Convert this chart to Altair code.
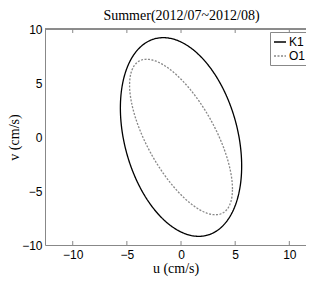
import numpy as np
import pandas as pd
import altair as alt

# Tidal ellipse parameters
constituents = ["K1", "O1"]
u_amp = [5.6, 4.75]          # cm/s, max |u|
v_amp = [9.2, 7.2]           # cm/s, max |v|
phase_deg = [107.0, 132.0]   # v phase lag relative to u

x_ticks = [-10, -5, 0, 5, 10]
y_ticks = [-10, -5, 0, 5, 10]

W, H = 261, 216

rows = []
for name, U, V, ph in zip(constituents, u_amp, v_amp, phase_deg):
    for i, t in enumerate(np.arange(0, 361, 2)):
        tr = np.deg2rad(t)
        rows.append({"name": name, "t": i,
                     "u": U * np.cos(tr),
                     "v": V * np.cos(tr - np.deg2rad(ph))})
df = pd.DataFrame(rows)
ticks_df = pd.DataFrame({"x": x_ticks})

xscale = alt.Scale(domain=[-12.56, 11.54], nice=False, zero=False)
yscale = alt.Scale(domain=[-10, 10], nice=False, zero=False)

leg = dict(orient="none", legendX=225, legendY=3, title=None,
           symbolType="stroke", symbolSize=144, symbolStrokeWidth=1.3,
           labelFont="Liberation Sans", labelFontSize=12, labelColor="black",
           labelOffset=2, strokeColor="#888888", fillColor="white",
           padding=3, rowPadding=1, cornerRadius=0)

lines = alt.Chart(df).mark_line(clip=True, strokeWidth=1.3).encode(
    x=alt.X("u:Q", scale=xscale,
            axis=alt.Axis(values=x_ticks, title="u (cm/s)", grid=False,
                          domainColor="#888888", ticks=False,
                          labelFont="Liberation Sans", labelFontSize=12,
                          labelColor="black", labelPadding=4,
                          titleFont="Liberation Serif", titleFontSize=14,
                          titleFontWeight="normal", titleColor="black",
                          titlePadding=1)),
    y=alt.Y("v:Q", scale=yscale,
            axis=alt.Axis(values=y_ticks, title="v (cm/s)", grid=False,
                          domainColor="#888888", ticks=False,
                          labelFont="Liberation Sans", labelFontSize=12,
                          labelColor="black", labelPadding=3,
                          titleFont="Liberation Serif", titleFontSize=14,
                          titleFontWeight="normal", titleColor="black",
                          titlePadding=0)),
    color=alt.Color("name:N", scale=alt.Scale(domain=constituents,
                                              range=["black", "#888888"]),
                    legend=alt.Legend(**leg)),
    strokeDash=alt.StrokeDash("name:N", scale=alt.Scale(domain=constituents,
                                                        range=[[1, 0], [2, 1.5]]),
                              legend=alt.Legend(**leg)),
    order="t:Q",
)

bottom_ticks = alt.Chart(ticks_df).mark_rule(color="#888888", strokeWidth=1).encode(
    x=alt.X("x:Q", scale=xscale), y=alt.value(H), y2=alt.value(H - 4))
top_ticks = alt.Chart(ticks_df).mark_rule(color="#888888", strokeWidth=1).encode(
    x=alt.X("x:Q", scale=xscale), y=alt.value(0), y2=alt.value(4))
top_line = alt.Chart(ticks_df).mark_rule(color="#888888", strokeWidth=1).encode(
    x=alt.value(0), x2=alt.value(W), y=alt.value(0))

chart = alt.layer(top_line, bottom_ticks, top_ticks, lines).properties(
    width=W, height=H,
    title=alt.Title("Summer(2012/07~2012/08)", font="Liberation Serif",
                    fontSize=14, fontWeight="normal", color="black",
                    anchor="middle", dx=6, offset=0),
    autosize=alt.AutoSizeParams(type="none"),
    padding={"left": 37, "top": 21, "right": 0, "bottom": 37},
).configure_view(stroke=None)

chart.save("out.html", embed_options={"renderer": "svg", "actions": False})
